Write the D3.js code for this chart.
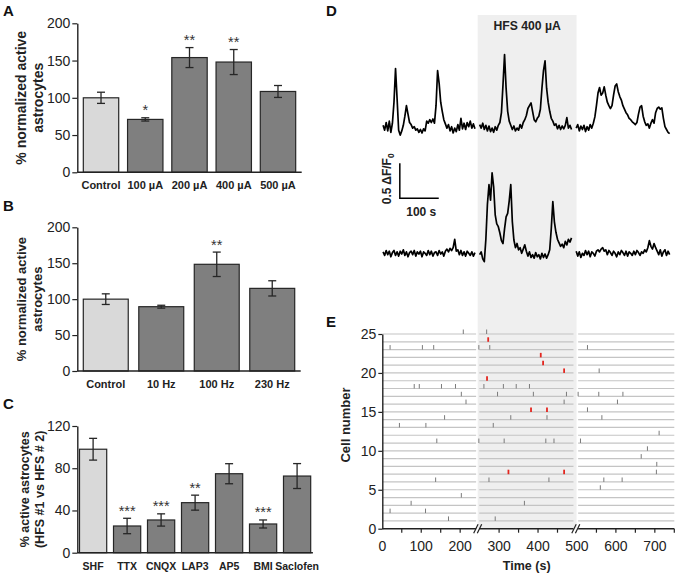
<!DOCTYPE html>
<html><head><meta charset="utf-8">
<script src="https://cdn.jsdelivr.net/npm/d3@7"></script>
<style>body{margin:0;background:#fff} svg{display:block} text{font-family:"Liberation Sans",Arial,sans-serif}</style>
</head><body><svg id="c" width="678" height="576"></svg>
<script>
// ---------- Panel A ----------
const catA = ["Control","100 µA","200 µA","400 µA","500 µA"];
const valA = [100, 71, 154, 148, 108.5];
const errA = [7.5, 2.2, 13.4, 16.8, 8];
const starA = ["", "*", "**", "**", ""];
const ticksA = [0, 50, 100, 150, 200];
// ---------- Panel B ----------
const catB = ["Control","10 Hz","100 Hz","230 Hz"];
const valB = [100, 89.5, 148.5, 115];
const errB = [7.4, 2, 17, 10.6];
const starB = ["", "", "**", ""];
const ticksB = [0, 50, 100, 150, 200];
// ---------- Panel C ----------
const catC = ["SHF","TTX","CNQX","LAP3","AP5","BMI","Saclofen"];
const valC = [98, 25.3, 31, 47.4, 74.8, 27.2, 72.6];
const errC = [10.3, 7.3, 5.8, 7.1, 9.5, 3.8, 11.8];
const starC = ["", "***", "***", "**", "", "***", ""];
const ticksC = [0, 40, 80, 120];
// ---------- Panel D (ΔF/F0 traces, sampled every 4 s from segment start) ----------
const traceStart = [2, 250, 498];
const traceStep = 4;
const traceTopL = [0.02,-0.05,0.06,-0.06,0.08,-0.08,0.05,0.35,0.83,0.40,-0.05,-0.12,-0.06,0.02,0.15,0.30,0.18,0.06,0.03,-0.02,0.00,-0.05,-0.03,-0.08,-0.04,-0.09,-0.03,-0.06,0.08,0.05,0.10,0.06,0.11,0.05,0.30,0.80,0.62,0.35,0.22,0.10,0.04,-0.02,0.03,-0.06,0.00,-0.09,-0.02,-0.07,0.03,-0.05,0.12,-0.03,0.05,-0.04,0.06,0.00,0.08,-0.02,0.04,-0.03];
const traceTopM = [0.03,-0.02,0.05,-0.04,0.02,-0.06,0.01,-0.07,-0.02,-0.08,0.00,-0.05,0.02,0.06,0.20,0.60,1.03,0.55,0.22,0.08,0.02,-0.04,0.01,-0.06,-0.02,-0.05,0.03,-0.02,0.06,0.10,0.16,0.26,0.30,0.34,0.22,0.10,0.07,0.12,0.15,0.25,0.55,0.80,0.94,0.55,0.35,0.22,0.12,0.08,0.02,0.04,-0.03,0.02,-0.04,0.01,-0.03,0.02,0.13,-0.02,0.02,-0.04];
const traceTopR = [-0.02,0.03,-0.06,0.01,-0.04,0.02,-0.07,0.00,-0.05,0.03,-0.02,0.05,0.14,0.30,0.48,0.56,0.45,0.48,0.57,0.45,0.35,0.30,0.26,0.30,0.45,0.58,0.61,0.50,0.43,0.38,0.30,0.25,0.20,0.17,0.12,0.10,0.07,0.05,0.03,0.06,0.18,0.28,0.30,0.15,0.07,0.02,0.04,-0.02,0.05,0.10,0.05,0.20,0.26,0.28,0.25,0.27,0.12,0.00,-0.04,-0.08,-0.10];
const traceBotL = [0.02,-0.03,0.04,-0.02,0.03,-0.05,0.01,0.04,-0.03,0.02,-0.04,0.03,-0.01,0.05,-0.03,0.02,-0.05,0.01,0.03,-0.02,0.04,-0.04,0.02,-0.01,0.03,-0.05,0.02,0.00,-0.03,0.04,-0.02,0.03,-0.04,0.01,0.02,-0.03,0.04,-0.01,0.02,-0.04,0.03,0.06,0.02,0.07,0.04,0.08,0.20,0.03,0.05,-0.02,0.04,-0.03,0.02,-0.04,0.03,0.00,-0.03,0.02,-0.04,0.01];
const traceBotM = [-0.02,0.02,-0.08,-0.12,0.20,0.70,0.98,0.76,1.15,0.95,0.55,0.42,0.38,0.29,0.18,0.14,0.35,0.52,0.57,0.75,0.98,0.45,0.19,0.08,0.14,0.05,0.08,0.00,0.06,0.12,0.03,-0.04,0.02,-0.06,-0.02,-0.07,0.01,-0.05,-0.02,-0.08,0.00,-0.06,-0.01,-0.07,-0.02,0.05,0.35,0.74,0.45,0.30,0.20,0.15,0.10,0.13,0.08,0.17,0.12,0.20,0.16,0.22];
const traceBotR = [0.03,-0.04,0.02,-0.06,0.00,-0.03,0.04,-0.02,0.03,-0.05,0.02,0.00,-0.04,0.03,0.05,0.02,0.06,0.08,0.03,0.05,-0.02,0.04,0.01,-0.03,0.03,0.00,-0.05,0.02,-0.02,0.04,0.01,-0.03,0.03,-0.04,0.02,0.00,-0.03,0.03,-0.02,0.04,0.01,-0.03,0.02,0.00,0.05,0.02,0.08,0.18,0.10,0.06,0.14,0.08,0.03,-0.02,0.05,-0.04,0.02,0.05,-0.03,0.03,-0.02];
const hfsWindow = [245, 499];
// ---------- Panel E (raster of Ca2+ events: [cell, times in s]) ----------
const grayEvents = [
  [25,[208,268]],[23,[20,103,132,248,276,527]],[20,[557]],
  [18,[82,95,152,188,261,311,344,378]],[17,[203,296,388,473,503,556,618]],
  [16,[215,467,604]],[15,[527]],[14,[160,330,423,564]],[13,[44,112,285]],
  [12,[711]],[11,[140,248,313,420,441,509]],[10,[681]],[9,[665]],[8,[705]],
  [7,[704]],[6,[137,274,428,569,616]],[5,[560]],[4,[203]],[3,[74,365]],
  [2,[20,111]],[1,[170,290]]
];
const redEvents = [[24,[272]],[22,[407]],[21,[413]],[20,[467]],[19,[269]],[15,[382,423]],[7,[324,467]]];
const timeSegments = [[0,241],[249,491],[503,750]];
const timeBreaks = [245, 497];
const timeTickLabels = [0,100,200,300,400,500,600,700];
const cellTicks = [0,5,10,15,20,25];

const FONT = '"Liberation Sans", Arial, sans-serif';
const INK = "#222";
const svg = d3.select("#c");
svg.append("rect").attr("width",678).attr("height",576).attr("fill","#fff");

function panelLetter(t, x, y){
  svg.append("text").attr("x",x).attr("y",y).text(t)
    .attr("font-size",15).attr("font-weight","bold").attr("fill","#111");
}

function barPanel(o){
  const x = d3.scaleBand().domain(o.cats).range(o.xr).paddingInner(o.pi).paddingOuter(o.po);
  const y = d3.scaleLinear().domain([0,o.max]).range(o.yr);
  const g = svg.append("g");
  const idx = d3.range(o.cats.length);
  g.selectAll("rect.bar").data(idx).join("rect")
    .attr("x",i=>x(o.cats[i])).attr("width",x.bandwidth())
    .attr("y",i=>y(o.vals[i])).attr("height",i=>y(0)-y(o.vals[i]))
    .attr("fill",i=>i===0?"#d9d9d9":"#7f7f7f")
    .attr("stroke","#262626").attr("stroke-width",1.2);
  const cx = i=>x(o.cats[i])+x.bandwidth()/2;
  const eb = g.selectAll("g.eb").data(idx).join("g").attr("stroke","#262626").attr("stroke-width",1.3);
  eb.append("line").attr("x1",cx).attr("x2",cx).attr("y1",i=>y(o.vals[i]-o.errs[i])).attr("y2",i=>y(o.vals[i]+o.errs[i]));
  eb.append("line").attr("x1",i=>cx(i)-4).attr("x2",i=>cx(i)+4).attr("y1",i=>y(o.vals[i]+o.errs[i])).attr("y2",i=>y(o.vals[i]+o.errs[i]));
  eb.append("line").attr("x1",i=>cx(i)-4).attr("x2",i=>cx(i)+4).attr("y1",i=>y(o.vals[i]-o.errs[i])).attr("y2",i=>y(o.vals[i]-o.errs[i]));
  g.selectAll("text.star").data(idx.filter(i=>o.stars[i])).join("text")
    .attr("x",cx).attr("y",i=>y(o.vals[i]+o.errs[i])-2.5).attr("text-anchor","middle")
    .attr("font-size",14.5).attr("fill","#333").text(i=>o.stars[i]);
  // y axis
  const ax = g.append("g").attr("transform",`translate(${o.xr[0]},0)`)
    .call(d3.axisLeft(y).tickValues(o.ticks).tickSize(5).tickSizeOuter(0).tickPadding(2));
  ax.select(".domain").attr("stroke",INK).attr("stroke-width",1.4);
  ax.selectAll(".tick line").attr("stroke",INK).attr("stroke-width",1.2);
  ax.selectAll(".tick text").attr("font-family",FONT).attr("font-size",14).attr("fill",INK);
  // x axis line
  g.append("line").attr("x1",o.xr[0]).attr("x2",o.xr[1]).attr("y1",y(0)).attr("y2",y(0))
    .attr("stroke",INK).attr("stroke-width",1.4);
  g.selectAll("text.xl").data(idx).join("text")
    .attr("x",cx).attr("y",y(0)+17).attr("text-anchor","middle")
    .attr("font-size",o.xfs||11).attr("font-weight","bold").attr("fill",INK).text(i=>o.cats[i]);
  // y title
  const cy = (o.yr[0]+o.yr[1])/2 + (o.tdy||0);
  o.title.forEach((t,k)=>{
    g.append("text").attr("transform",`translate(${o.tx[k]},${cy}) rotate(-90)`)
      .attr("text-anchor","middle").attr("dy","0.35em")
      .attr("font-size",o.tfs).attr("font-weight","bold").attr("fill",INK).text(t);
  });
}

barPanel({cats:catA, vals:valA, errs:errA, stars:starA, ticks:ticksA, max:200,
  xr:[77.3,301.7], pi:0.2, po:0.136, yr:[172.3,23.3],
  title:["% normalized active","astrocytes"], tx:[20.7,38.3], tfs:14});
barPanel({cats:catB, vals:valB, errs:errB, stars:starB, ticks:ticksB, max:200,
  xr:[77.3,300.7], pi:0.19, po:0.108, yr:[371,227.3],
  title:["% normalized active","astrocytes"], tx:[21,37.5], tfs:13});
barPanel({cats:catC, vals:valC, errs:errC, stars:starC, ticks:ticksC, max:120,
  xr:[77.3,312.9], pi:0.2, po:0.065, yr:[552.7,426], xfs:10.5,
  title:["% active astrocytes","(HFS #1 vs HFS # 2)"], tx:[25,40], tfs:12.5});

panelLetter("A",3,16); panelLetter("B",3,211); panelLetter("C",3,409);
panelLetter("D",326,16); panelLetter("E",326,327);

// ---------- shared time scale for D and E ----------
const xT = d3.scaleLinear().domain([0,750]).range([382.3,674.3]);
const yE = d3.scaleLinear().domain([0,25]).range([528.7,334]);

// HFS shading
svg.append("rect").attr("x",xT(hfsWindow[0])).attr("width",xT(hfsWindow[1])-xT(hfsWindow[0]))
  .attr("y",15).attr("height",yE(0)-15).attr("fill","#efefef");
svg.append("text").attr("x",(xT(hfsWindow[0])+xT(hfsWindow[1]))/2).attr("y",30)
  .attr("text-anchor","middle").attr("font-size",12.2).attr("font-weight","bold").attr("fill",INK)
  .text("HFS 400 µA");

// ---------- Panel D traces ----------
const yTop = d3.scaleLinear().domain([0,1]).range([126.7,56.7]);
const yBot = d3.scaleLinear().domain([0,1]).range([253.3,183.3]);
function trace(vals, start, ys){
  const line = d3.line().x((v,i)=>xT(start+i*traceStep)).y(v=>ys(v));
  svg.append("path").attr("d",line(vals)).attr("fill","none").attr("stroke","#000")
    .attr("stroke-width",1.7).attr("stroke-linejoin","round");
}
[traceTopL,traceTopM,traceTopR].forEach((v,k)=>trace(v,traceStart[k],yTop));
[traceBotL,traceBotM,traceBotR].forEach((v,k)=>trace(v,traceStart[k],yBot));
// scale bar: 0.5 ΔF/F0, 100 s
const ySB = d3.scaleLinear().domain([0,1]).range([198.3,128.3]);
const sbT = 45;
svg.append("path").attr("d",`M${xT(sbT)},${ySB(0.5)}V${ySB(0)}H${xT(sbT+100)}`)
  .attr("fill","none").attr("stroke","#000").attr("stroke-width",1.5);
svg.append("text").attr("x",(xT(sbT)+xT(sbT+100))/2+2).attr("y",ySB(0)+18).attr("text-anchor","middle")
  .attr("font-size",12).attr("font-weight","bold").attr("fill",INK).text("100 s");
const sbl = svg.append("text").attr("transform",`translate(${xT(sbT)-9},${ySB(0.25)-2}) rotate(-90)`)
  .attr("text-anchor","middle").attr("font-size",12).attr("font-weight","bold").attr("fill",INK);
sbl.append("tspan").text("0.5 ΔF/F");
sbl.append("tspan").attr("font-size",8.5).attr("dy",3).text("0");

// ---------- Panel E raster ----------
const gE = svg.append("g");
d3.range(1,26).forEach(r=>{
  timeSegments.forEach(s=>{
    gE.append("line").attr("x1",xT(s[0])).attr("x2",xT(s[1])).attr("y1",yE(r)).attr("y2",yE(r))
      .attr("stroke","#c4c4c4").attr("stroke-width",1.2);
  });
});
function events(list, color, w){
  list.forEach(([r,ts])=>ts.forEach(t=>{
    gE.append("line").attr("x1",xT(t)).attr("x2",xT(t)).attr("y1",yE(r)).attr("y2",yE(r)-4.5)
      .attr("stroke",color).attr("stroke-width",w);
  }));
}
events(grayEvents,"#7a7a7a",1);
events(redEvents,"#e3261f",1.8);
// y axis
const axE = gE.append("g").attr("transform",`translate(${xT(0)},0)`)
  .call(d3.axisLeft(yE).tickValues(cellTicks).tickSize(4).tickSizeOuter(0).tickPadding(2));
axE.select(".domain").attr("stroke",INK).attr("stroke-width",1.4);
axE.selectAll(".tick line").attr("stroke",INK).attr("stroke-width",1.2);
axE.selectAll(".tick text").attr("font-family",FONT).attr("font-size",14).attr("fill",INK);
// x axis with breaks
timeSegments.forEach(s=>{
  gE.append("line").attr("x1",xT(s[0])).attr("x2",xT(s[1])).attr("y1",yE(0)).attr("y2",yE(0))
    .attr("stroke",INK).attr("stroke-width",1.4);
});
d3.range(50,751,50).filter(t=>t!==250&&t!==500).forEach(t=>{
  gE.append("line").attr("x1",xT(t)).attr("x2",xT(t)).attr("y1",yE(0)).attr("y2",yE(0)+4)
    .attr("stroke",INK).attr("stroke-width",1.2);
});
timeBreaks.forEach(b=>{
  [-1.8,1.8].forEach(o=>{
    gE.append("line").attr("x1",xT(b)+o-2.2).attr("x2",xT(b)+o+2.2).attr("y1",yE(0)+4.5).attr("y2",yE(0)-4.5)
      .attr("stroke",INK).attr("stroke-width",1.2);
  });
});
gE.selectAll("text.xt").data(timeTickLabels).join("text")
  .attr("x",d=>xT(d)).attr("y",yE(0)+22).attr("text-anchor","middle")
  .attr("font-size",14).attr("fill",INK).text(d=>d);
gE.append("text").attr("x",526.7).attr("y",569.5).attr("text-anchor","middle")
  .attr("font-size",12.5).attr("font-weight","bold").attr("fill",INK).text("Time (s)");
gE.append("text").attr("transform",`translate(345,425) rotate(-90)`).attr("text-anchor","middle")
  .attr("dy","0.35em").attr("font-size",13).attr("font-weight","bold").attr("fill",INK).text("Cell number");
</script></body></html>
